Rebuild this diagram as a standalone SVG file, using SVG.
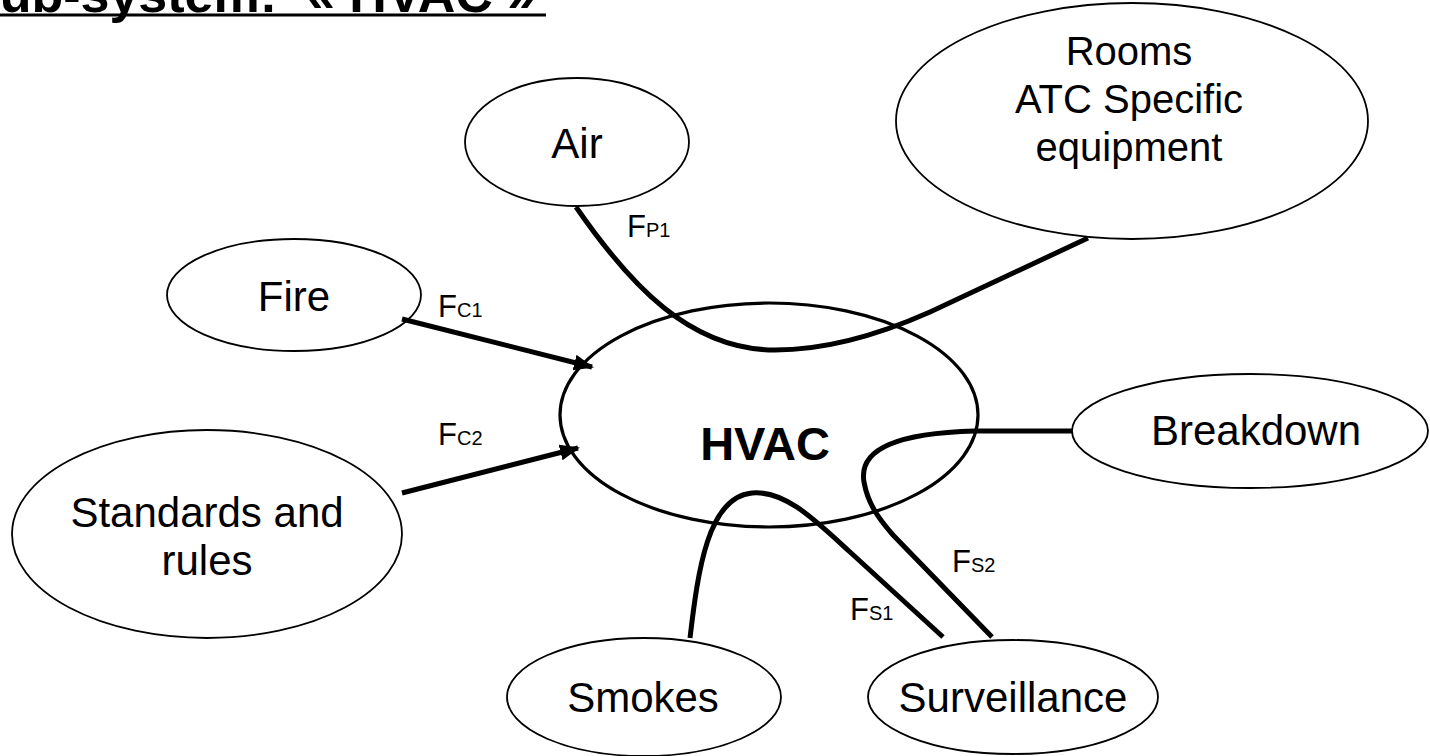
<svg xmlns="http://www.w3.org/2000/svg" width="1430" height="756" viewBox="0 0 1430 756">
  <style>
    .node { fill: #ffffff; stroke: #000000; stroke-width: 1.8; }
    .core { fill: #ffffff; stroke: #000000; stroke-width: 3.2; }
    .lbl { font-family: "Liberation Sans", Arial, sans-serif; font-size: 42px; fill: #000000; text-anchor: middle; }
    .flow { font-family: "Liberation Sans", Arial, sans-serif; font-size: 31px; fill: #000000; }
    .sub { font-size: 20px; }
    .wire { fill: none; stroke: #000000; stroke-width: 5; }
    .title { font-family: "Liberation Sans", Arial, sans-serif; font-size: 52px; font-weight: bold; fill: #000000; }
  </style>
  <defs>
    <marker id="arrow" markerUnits="userSpaceOnUse" markerWidth="22" markerHeight="18" refX="18" refY="8" orient="auto">
      <path d="M0,0 L20,8 L0,16 Z" fill="#000000"/>
    </marker>
  </defs>

  <!-- title, partly above the top edge -->
  <g id="title">
    <text class="title" x="-35" y="12" xml:space="preserve">Sub-system:  « HVAC »</text>
    <rect x="0" y="13.5" width="546" height="3" fill="#000000"/>
  </g>

  <!-- nodes -->
  <g id="node-air">
    <ellipse class="node" cx="577" cy="142" rx="112" ry="64"/>
    <text class="lbl" x="577" y="158">Air</text>
  </g>
  <g id="node-rooms">
    <ellipse class="node" cx="1132" cy="121" rx="236" ry="118"/>
    <text class="lbl" x="1129" y="65" style="font-size:40px">Rooms</text>
    <text class="lbl" x="1129" y="113" style="font-size:40px">ATC Specific</text>
    <text class="lbl" x="1129" y="161" style="font-size:40px">equipment</text>
  </g>
  <g id="node-fire">
    <ellipse class="node" cx="294" cy="295" rx="127" ry="56"/>
    <text class="lbl" x="294" y="311">Fire</text>
  </g>
  <g id="node-standards">
    <ellipse class="node" cx="207" cy="534" rx="195" ry="104"/>
    <text class="lbl" x="207" y="527">Standards and</text>
    <text class="lbl" x="207" y="575">rules</text>
  </g>
  <g id="node-breakdown">
    <ellipse class="node" cx="1250" cy="431" rx="178" ry="57"/>
    <text class="lbl" x="1256" y="445">Breakdown</text>
  </g>
  <g id="node-smokes">
    <ellipse class="node" cx="644" cy="697" rx="137" ry="59"/>
    <text class="lbl" x="643" y="712">Smokes</text>
  </g>
  <g id="node-surveillance">
    <ellipse class="node" cx="1013" cy="697" rx="145" ry="57"/>
    <text class="lbl" x="1013" y="712">Surveillance</text>
  </g>
  <g id="node-hvac">
    <ellipse class="core" cx="769" cy="415" rx="209" ry="112"/>
    <text class="lbl" x="765" y="460" style="font-weight:bold;font-size:47px">HVAC</text>
  </g>

  <!-- connectors -->
  <g id="connectors">
    <line class="wire" x1="402" y1="319" x2="592" y2="367" marker-end="url(#arrow)"/>
    <line class="wire" x1="402" y1="493" x2="578" y2="448" marker-end="url(#arrow)"/>
    <path class="wire" d="M576,207 C630,285 690,350 775,350 C830,350 885,332 930,312 L1088,238"/>
    <path class="wire" d="M690,638 C698,570 708,497 752,493 C785,490 815,520 850,552 L943,637"/>
    <path class="wire" d="M1072,431 L975,431 C900,433 858,448 864,482 C868,505 880,520 893,535 L992,637"/>
  </g>

  <!-- flow labels -->
  <g id="flow-labels">
    <text class="flow" x="438" y="317">F<tspan class="sub">C1</tspan></text>
    <text class="flow" x="438" y="445">F<tspan class="sub">C2</tspan></text>
    <text class="flow" x="627" y="237">F<tspan class="sub">P1</tspan></text>
    <text class="flow" x="850" y="620">F<tspan class="sub">S1</tspan></text>
    <text class="flow" x="952" y="572">F<tspan class="sub">S2</tspan></text>
  </g>
</svg>
